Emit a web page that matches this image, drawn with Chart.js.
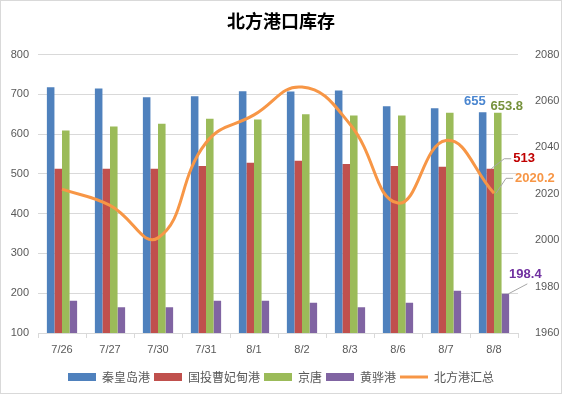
<!DOCTYPE html>
<html>
<head>
<meta charset="utf-8">
<script src="https://cdn.jsdelivr.net/npm/chart.js@4/dist/chart.umd.min.js"></script>
<style>
  html, body { margin: 0; padding: 0; background: #fff; }
  #wrap { width: 560px; height: 392px; border: 1px solid #d9d9d9; }
</style>
</head>
<body>
<div id="wrap"><canvas id="c" width="560" height="392"></canvas></div>
<script>
const dates = ['7/26', '7/27', '7/30', '7/31', '8/1', '8/2', '8/3', '8/6', '8/7', '8/8'];
const qinhuangdao = [718, 715, 693, 695, 708, 707, 710, 670, 665, 655];
const caofeidian = [513, 513, 513, 520, 528, 533, 525, 520, 518, 513];
const jingtang = [609, 619, 626, 639, 637, 650, 647, 647, 654, 653.8];
const huanghua = [181, 165, 165, 181, 181, 176, 165, 176, 206, 198.4];
const total = [2022, 2015, 2001, 2042, 2054, 2066, 2050, 2016, 2043, 2020.2];
const leftTicks = [100, 200, 300, 400, 500, 600, 700, 800];
const rightTicks = [1960, 1980, 2000, 2020, 2040, 2060, 2080];

const grey = '#595959';
const numFont = 'Liberation Sans, Arial, sans-serif';
const cjkFont = '"Noto Sans CJK SC", sans-serif';

// last-point labels, Excel style, with small leader lines
const lastLabels = {
  id: 'lastLabels',
  afterDatasetsDraw(chart) {
    const ctx = chart.ctx;
    const last = dates.length - 1;
    const pt = i => chart.getDatasetMeta(i).data[last];
    const t = pt(0), b = pt(1), r = pt(2), g = pt(3), p = pt(4);
    ctx.save();
    ctx.font = 'bold 13px ' + numFont;
    ctx.textBaseline = 'middle';

    // leaders
    ctx.strokeStyle = '#a6a6a6';
    ctx.lineWidth = 1;
    const leader = (x0, y0, x1, y1, x2) => {
      ctx.beginPath();
      ctx.moveTo(x0, y0); ctx.lineTo(x1, y1); ctx.lineTo(x2, y1); ctx.stroke();
    };
    leader(r.x + 1, r.y, r.x + 14, r.y - 10, r.x + 21);
    leader(t.x + 2, t.y, t.x + 12, t.y - 15, t.x + 19);
    leader(p.x + 3, p.y, p.x + 22, p.y - 10, p.x + 22);

    ctx.textAlign = 'right';
    ctx.fillStyle = '#4a86d0';
    ctx.fillText(qinhuangdao[last], b.x + 3, b.y - 11);
    ctx.textAlign = 'center';
    ctx.fillStyle = '#76923c';
    ctx.fillText(jingtang[last], g.x + 9, g.y - 6);
    ctx.textAlign = 'left';
    ctx.fillStyle = '#c00000';
    ctx.fillText(caofeidian[last], r.x + 23, r.y - 10);
    ctx.fillStyle = '#f79646';
    ctx.fillText(total[last], t.x + 21, t.y - 15);
    ctx.textAlign = 'center';
    ctx.fillStyle = '#7030a0';
    ctx.fillText(huanghua[last], p.x + 20, p.y - 19);
    ctx.restore();
  }
};

new Chart(document.getElementById('c'), {
  data: {
    labels: dates,
    datasets: [
      { type: 'line', label: '北方港汇总', data: total, yAxisID: 'y1', borderColor: '#f79646', backgroundColor: '#f79646',
        borderWidth: 3, tension: 0.45, pointRadius: 0, pointStyle: 'line', order: 0 },
      { type: 'bar', label: '秦皇岛港', data: qinhuangdao, backgroundColor: '#4f81bd', pointStyle: 'rect', order: 1 },
      { type: 'bar', label: '国投曹妃甸港', data: caofeidian, backgroundColor: '#c0504d', pointStyle: 'rect', order: 1 },
      { type: 'bar', label: '京唐', data: jingtang, backgroundColor: '#9bbb59', pointStyle: 'rect', order: 1 },
      { type: 'bar', label: '黄骅港', data: huanghua, backgroundColor: '#8064a2', pointStyle: 'rect', order: 1 }
    ]
  },
  options: {
    responsive: false,
    animation: false,
    layout: { padding: { top: 3, bottom: 0, left: 0, right: 0 } },
    datasets: { bar: { categoryPercentage: 0.63, barPercentage: 1 } },
    plugins: {
      title: { display: true, text: '北方港口库存', color: '#000', font: { family: cjkFont, size: 18, weight: 'bold' },
        padding: { top: 6, bottom: 23 } },
      legend: {
        position: 'bottom',
        labels: {
          usePointStyle: true, pointStyleWidth: 28, boxWidth: 25, boxHeight: 8, padding: 4,
          color: grey, font: { family: cjkFont, size: 12 },
          sort: (a, b) => (a.datasetIndex === 0) - (b.datasetIndex === 0)
        }
      },
      tooltip: { enabled: false }
    },
    scales: {
      x: {
        offset: true,
        grid: { offset: true, drawOnChartArea: false, drawTicks: true, tickLength: 5, color: '#d9d9d9' },
        border: { color: '#d9d9d9' },
        ticks: { color: grey, font: { family: numFont, size: 11 }, padding: 5 },
        afterFit: s => { s.height = 34; }
      },
      y: {
        position: 'left', min: 100, max: 800,
        grid: { color: '#d9d9d9', drawTicks: false },
        border: { display: false },
        afterBuildTicks: s => { s.ticks = leftTicks.map(v => ({ value: v })); },
        ticks: { color: grey, font: { family: numFont, size: 11 }, padding: 9 },
        afterFit: s => { s.width = 37; }
      },
      y1: {
        position: 'right', min: 1960, max: 2080,
        grid: { display: false },
        border: { display: false },
        afterBuildTicks: s => { s.ticks = rightTicks.map(v => ({ value: v })); },
        ticks: { color: grey, font: { family: numFont, size: 11 }, padding: 9, callback: v => String(v) },
        afterFit: s => { s.width = 43; }
      }
    }
  },
  plugins: [lastLabels]
});
</script>
</body>
</html>
